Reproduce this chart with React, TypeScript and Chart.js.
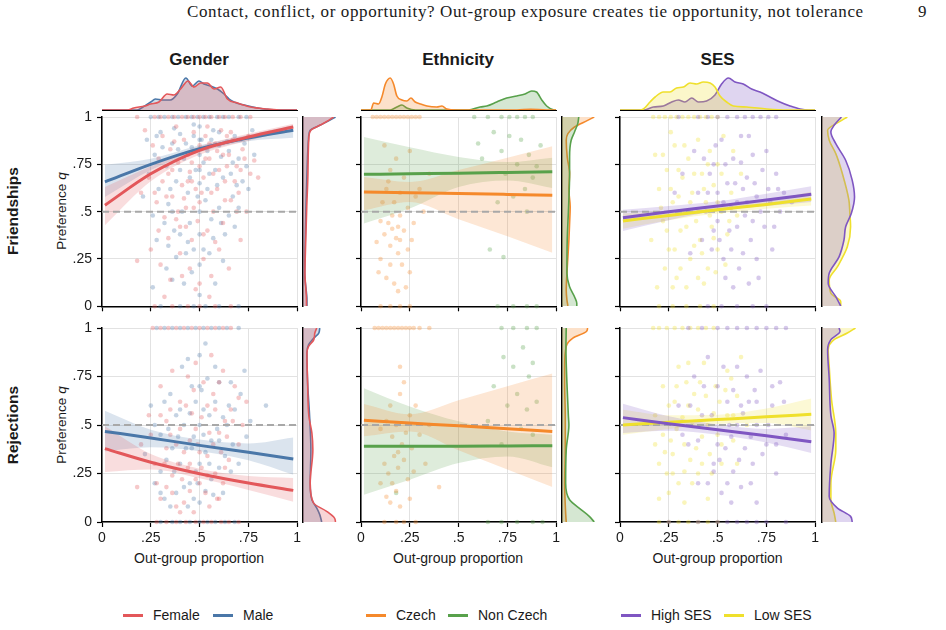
import React, { useEffect, useRef } from 'react';
import { Chart, registerables } from 'chart.js';

Chart.register(...registerables);
Chart.defaults.font.family = '"Liberation Sans", Arial, Helvetica, sans-serif';
Chart.defaults.color = '#1a1a1a';

// ---------------- colours ----------------
const RED = '#e3575a';
const BLUE = '#4a77a8';
const ORANGE = '#f5892b';
const GREEN = '#58a14b';
const PURPLE = '#7f56c2';
const YELLOW = '#efe02c';

// ---------------- texts ----------------
const HEADER = 'Contact, conflict, or opportunity? Out-group exposure creates tie opportunity, not tolerance';
const PAGE_NO = '9';
const COLUMN_TITLES = ['Gender', 'Ethnicity', 'SES'];
const ROW_TITLES = ['Friendships', 'Rejections'];
const X_TITLE = 'Out-group proportion';
const Y_TITLE = 'Preference';
const Y_TITLE_VAR = 'q';
const LEGEND_LABELS = ['Female', 'Male', 'Czech', 'Non Czech', 'High SES', 'Low SES'];
const LEGEND_COLORS = [RED, BLUE, ORANGE, GREEN, PURPLE, YELLOW];

// ---------------- axes ----------------
const TICK_VALUES = [0, 0.25, 0.5, 0.75, 1];
const TICK_LABELS = ['0', '.25', '.5', '.75', '1'];
const CHANCE_LEVEL = 0.5;
const FIT_X = [0.015, 0.25, 0.5, 0.75, 0.98];

// ================= GENDER — Friendships =================
const gFrFemaleFit = [0.534, 0.70, 0.824, 0.894, 0.947];
const gFrFemaleLo = [0.428, 0.66, 0.80, 0.875, 0.93];
const gFrFemaleHi = [0.63, 0.74, 0.846, 0.912, 0.965];
const gFrMaleFit = [0.657, 0.75, 0.833, 0.889, 0.93];
const gFrMaleLo = [0.577, 0.72, 0.815, 0.872, 0.89];
const gFrMaleHi = [0.748, 0.78, 0.851, 0.905, 0.956];
const gFrFemaleRow1 = [0.18, 0.27, 0.3, 0.34, 0.37, 0.41, 0.44, 0.47, 0.5, 0.53, 0.56, 0.6, 0.63, 0.67, 0.71, 0.76];
const gFrFemaleRow0 = [0.27, 0.36, 0.44, 0.5, 0.58, 0.66];
const gFrFemalePts = [
  [0.22, 0.93], [0.26, 0.85], [0.29, 0.78], [0.31, 0.9], [0.34, 0.7], [0.35, 0.83], [0.38, 0.95], [0.39, 0.76],
  [0.41, 0.64], [0.42, 0.88], [0.44, 0.8], [0.45, 0.71], [0.47, 0.92], [0.48, 0.62], [0.5, 0.85], [0.5, 0.74],
  [0.5, 0.55], [0.52, 0.68], [0.53, 0.9], [0.55, 0.78], [0.56, 0.6], [0.58, 0.86], [0.6, 0.72], [0.61, 0.93],
  [0.63, 0.66], [0.65, 0.8], [0.67, 0.88], [0.69, 0.74], [0.72, 0.83], [0.75, 0.9], [0.78, 0.77], [0.2, 0.6],
  [0.24, 0.68], [0.28, 0.55], [0.32, 0.47], [0.36, 0.58], [0.4, 0.42], [0.43, 0.52], [0.46, 0.35], [0.49, 0.45],
  [0.54, 0.4], [0.57, 0.5], [0.62, 0.44], [0.66, 0.56], [0.7, 0.6], [0.74, 0.5], [0.25, 0.3], [0.3, 0.22],
  [0.35, 0.14], [0.4, 0.28], [0.45, 0.2], [0.48, 0.09], [0.52, 0.25], [0.56, 0.16], [0.6, 0.3], [0.65, 0.2],
  [0.18, 0.24], [0.71, 0.35], [0.8, 0.68], [0.37, 0.87], [0.46, 0.66], [0.54, 0.95], [0.59, 0.82], [0.64, 0.9],
  [0.27, 0.6], [0.31, 0.66], [0.33, 0.58], [0.36, 0.72], [0.39, 0.5], [0.42, 0.57], [0.44, 0.66], [0.46, 0.76],
  [0.48, 0.82], [0.51, 0.6], [0.53, 0.78], [0.55, 0.86], [0.57, 0.7], [0.59, 0.62], [0.62, 0.8], [0.64, 0.74],
  [0.66, 0.92], [0.68, 0.66], [0.71, 0.72], [0.73, 0.78], [0.76, 0.7], [0.29, 0.4], [0.34, 0.36], [0.38, 0.46],
  [0.43, 0.42], [0.47, 0.52], [0.52, 0.38], [0.58, 0.34], [0.63, 0.56], [0.69, 0.5], [0.41, 0.16], [0.5, 0.12],
  [0.55, 0.05], [0.32, 0.05],
];
const gFrMaleRow1 = [0.25, 0.29, 0.32, 0.36, 0.39, 0.43, 0.46, 0.49, 0.52, 0.55, 0.59, 0.62, 0.65, 0.7, 0.74];
const gFrMaleRow0 = [0.3, 0.4, 0.47, 0.53, 0.6, 0.7];
const gFrMalePts = [
  [0.23, 0.88], [0.27, 0.8], [0.3, 0.92], [0.33, 0.74], [0.36, 0.86], [0.38, 0.66], [0.4, 0.91], [0.42, 0.78],
  [0.44, 0.6], [0.46, 0.84], [0.48, 0.72], [0.5, 0.95], [0.5, 0.8], [0.5, 0.65], [0.5, 0.5], [0.5, 0.38],
  [0.5, 0.22], [0.51, 0.88], [0.54, 0.82], [0.55, 0.7], [0.57, 0.93], [0.59, 0.64], [0.61, 0.79], [0.64, 0.87],
  [0.66, 0.7], [0.68, 0.9], [0.7, 0.78], [0.73, 0.86], [0.77, 0.93], [0.21, 0.58], [0.26, 0.48], [0.29, 0.62],
  [0.34, 0.54], [0.37, 0.4], [0.41, 0.5], [0.45, 0.44], [0.47, 0.3], [0.53, 0.56], [0.56, 0.46], [0.6, 0.52],
  [0.63, 0.38], [0.67, 0.58], [0.72, 0.66], [0.28, 0.35], [0.33, 0.2], [0.38, 0.26], [0.42, 0.12], [0.44, 0.34],
  [0.55, 0.28], [0.58, 0.12], [0.62, 0.24], [0.68, 0.42], [0.75, 0.62], [0.26, 0.1], [0.34, 0.32], [0.5, 0.88],
  [0.5, 0.72], [0.39, 0.83], [0.47, 0.9], [0.6, 0.85],
  [0.24, 0.7], [0.28, 0.9], [0.31, 0.84], [0.35, 0.62], [0.37, 0.94], [0.4, 0.72], [0.43, 0.86], [0.45, 0.68],
  [0.47, 0.96], [0.49, 0.58], [0.52, 0.76], [0.54, 0.62], [0.56, 0.88], [0.58, 0.72], [0.6, 0.92], [0.62, 0.68],
  [0.65, 0.82], [0.67, 0.76], [0.69, 0.64], [0.71, 0.88], [0.74, 0.74], [0.78, 0.8], [0.32, 0.44], [0.36, 0.5],
  [0.4, 0.38], [0.43, 0.28], [0.46, 0.18], [0.52, 0.3], [0.57, 0.36], [0.61, 0.44], [0.65, 0.48], [0.7, 0.52],
  [0.5, 0.06], [0.36, 0.14],
];

// ================= GENDER — Rejections =================
const gReFemaleFit = [0.378, 0.308, 0.249, 0.201, 0.163];
const gReFemaleLo = [0.258, 0.27, 0.225, 0.165, 0.105];
const gReFemaleHi = [0.493, 0.35, 0.275, 0.237, 0.227];
const gReMaleFit = [0.467, 0.433, 0.395, 0.359, 0.325];
const gReMaleLo = [0.364, 0.385, 0.365, 0.318, 0.244];
const gReMaleHi = [0.574, 0.476, 0.425, 0.405, 0.436];
const gReFemaleRow1 = [0.26, 0.3, 0.34, 0.38, 0.42, 0.46, 0.5, 0.54, 0.58, 0.62, 0.66];
const gReFemaleRow0 = [0.28, 0.33, 0.38, 0.43, 0.48, 0.52, 0.56, 0.61, 0.65, 0.7];
const gReFemalePts = [
  [0.3, 0.12], [0.33, 0.18], [0.36, 0.24], [0.39, 0.3], [0.42, 0.36], [0.45, 0.42], [0.48, 0.48], [0.51, 0.54],
  [0.54, 0.6], [0.57, 0.66], [0.6, 0.72], [0.42, 0.1], [0.45, 0.16], [0.48, 0.22], [0.51, 0.28], [0.54, 0.34],
  [0.57, 0.4], [0.6, 0.46], [0.63, 0.52], [0.66, 0.58], [0.2, 0.4], [0.24, 0.55], [0.27, 0.3], [0.3, 0.7],
  [0.35, 0.45], [0.38, 0.08], [0.4, 0.62], [0.44, 0.75], [0.47, 0.05], [0.5, 0.2], [0.53, 0.15], [0.55, 0.08],
  [0.58, 0.25], [0.62, 0.2], [0.65, 0.32], [0.68, 0.7], [0.72, 0.5], [0.74, 0.62], [0.33, 0.52], [0.36, 0.78],
  [0.47, 0.68], [0.6, 0.12], [0.7, 0.4], [0.18, 0.18], [0.41, 0.22], [0.44, 0.28], [0.5, 0.36], [0.56, 0.86],
  [0.32, 0.3], [0.35, 0.58], [0.38, 0.4], [0.4, 0.48], [0.43, 0.6], [0.46, 0.56], [0.49, 0.4], [0.52, 0.72],
  [0.55, 0.46], [0.58, 0.58], [0.61, 0.36], [0.64, 0.44], [0.67, 0.52], [0.7, 0.64], [0.36, 0.15], [0.4, 0.05],
  [0.45, 0.3], [0.54, 0.24], [0.59, 0.12], [0.63, 0.28], [0.28, 0.2], [0.33, 0.38], [0.25, 0.45], [0.48, 0.82],
  [0.62, 0.78], [0.3, 0.55],
];
const gReMaleRow1 = [0.28, 0.32, 0.36, 0.4, 0.44, 0.48, 0.52, 0.56, 0.6, 0.64, 0.7];
const gReMaleRow0 = [0.3, 0.36, 0.4, 0.45, 0.5, 0.54, 0.58, 0.63, 0.68];
const gReMalePts = [
  [0.27, 0.2], [0.3, 0.26], [0.33, 0.32], [0.36, 0.38], [0.39, 0.44], [0.42, 0.5], [0.45, 0.56], [0.48, 0.62],
  [0.51, 0.68], [0.54, 0.74], [0.45, 0.2], [0.48, 0.26], [0.5, 0.3], [0.53, 0.36], [0.56, 0.42], [0.59, 0.48],
  [0.62, 0.54], [0.65, 0.6], [0.5, 0.1], [0.53, 0.16], [0.56, 0.22], [0.6, 0.28], [0.63, 0.34], [0.67, 0.4],
  [0.22, 0.35], [0.25, 0.6], [0.32, 0.12], [0.35, 0.66], [0.38, 0.15], [0.41, 0.8], [0.44, 0.08], [0.47, 0.44],
  [0.5, 0.86], [0.5, 0.5], [0.5, 0.7], [0.55, 0.55], [0.58, 0.8], [0.62, 0.15], [0.66, 0.72], [0.7, 0.3],
  [0.73, 0.78], [0.76, 0.52], [0.3, 0.45], [0.84, 0.6], [0.4, 0.3], [0.46, 0.38], [0.52, 0.45],
  [0.3, 0.15], [0.34, 0.48], [0.37, 0.26], [0.4, 0.58], [0.43, 0.38], [0.46, 0.7], [0.49, 0.2], [0.52, 0.58],
  [0.55, 0.3], [0.58, 0.62], [0.6, 0.42], [0.64, 0.5], [0.68, 0.58], [0.71, 0.66], [0.74, 0.44], [0.35, 0.08],
  [0.42, 0.18], [0.47, 0.12], [0.57, 0.14], [0.66, 0.26], [0.27, 0.5], [0.32, 0.62], [0.44, 0.84], [0.6, 0.72],
  [0.38, 0.55], [0.53, 0.92],
];

// ================= ETHNICITY — Friendships =================
const eFrCzechFit = [0.604, 0.60, 0.596, 0.591, 0.586];
const eFrCzechLo = [0.507, 0.551, 0.46, 0.37, 0.283];
const eFrCzechHi = [0.683, 0.657, 0.72, 0.785, 0.845];
const eFrNonFit = [0.697, 0.70, 0.703, 0.707, 0.711];
const eFrNonLo = [0.437, 0.516, 0.63, 0.665, 0.625];
const eFrNonHi = [0.894, 0.84, 0.789, 0.762, 0.785];
const eFrCzechRow1 = [0.06, 0.08, 0.1, 0.12, 0.14, 0.16, 0.18, 0.2, 0.22, 0.24, 0.26, 0.28, 0.3];
const eFrCzechRow0 = [0.1, 0.15, 0.2, 0.25];
const eFrCzechPts = [
  [0.12, 0.85], [0.15, 0.72], [0.18, 0.78], [0.22, 0.68], [0.25, 0.82], [0.13, 0.62], [0.17, 0.55], [0.2, 0.6],
  [0.24, 0.52], [0.28, 0.58], [0.1, 0.45], [0.12, 0.38], [0.14, 0.44], [0.15, 0.32], [0.16, 0.41], [0.18, 0.36],
  [0.19, 0.28], [0.2, 0.48], [0.21, 0.22], [0.22, 0.4], [0.24, 0.3], [0.25, 0.18], [0.26, 0.35], [0.1, 0.25],
  [0.13, 0.15], [0.15, 0.22], [0.17, 0.12], [0.19, 0.08], [0.23, 0.1], [0.08, 0.34], [0.11, 0.55], [0.14, 0.66],
  [0.27, 0.44], [0.3, 0.62], [0.32, 0.5], [0.35, 0.7], [0.16, 0.48], [0.19, 0.42], [0.09, 0.18], [0.2, 0.35],
];
const eFrNonRow1 = [0.58, 0.65, 0.72, 0.76, 0.8, 0.84, 0.88];
const eFrNonRow0 = [0.7, 0.78, 0.85, 0.9];
const eFrNonPts = [
  [0.6, 0.86], [0.62, 0.78], [0.68, 0.92], [0.72, 0.82], [0.74, 0.7], [0.76, 0.9], [0.8, 0.75], [0.82, 0.88],
  [0.84, 0.62], [0.86, 0.8], [0.88, 0.68], [0.9, 0.74], [0.7, 0.55], [0.78, 0.58], [0.66, 0.3], [0.73, 0.26],
  [0.85, 0.5], [0.92, 0.85],
];

// ================= ETHNICITY — Rejections =================
const eReCzechFit = [0.524, 0.51, 0.496, 0.481, 0.466];
const eReCzechLo = [0.442, 0.467, 0.37, 0.27, 0.18];
const eReCzechHi = [0.608, 0.555, 0.627, 0.70, 0.765];
const eReNonFit = [0.39, 0.391, 0.391, 0.392, 0.393];
const eReNonLo = [0.141, 0.218, 0.304, 0.338, 0.282];
const eReNonHi = [0.69, 0.596, 0.519, 0.467, 0.45];
const eReCzechRow1 = [0.07, 0.09, 0.11, 0.13, 0.15, 0.17, 0.19, 0.21, 0.23, 0.25, 0.27, 0.3, 0.35];
const eReCzechRow0 = [0.12, 0.18, 0.22, 0.28];
const eReCzechPts = [
  [0.2, 0.8], [0.22, 0.72], [0.15, 0.6], [0.2, 0.66], [0.25, 0.55], [0.1, 0.48], [0.13, 0.52], [0.16, 0.44],
  [0.18, 0.5], [0.21, 0.4], [0.23, 0.46], [0.26, 0.38], [0.12, 0.3], [0.14, 0.25], [0.17, 0.34], [0.19, 0.28],
  [0.22, 0.32], [0.24, 0.22], [0.27, 0.26], [0.13, 0.13], [0.15, 0.1], [0.18, 0.16], [0.2, 0.08], [0.25, 0.12],
  [0.1, 0.2], [0.3, 0.45], [0.33, 0.3], [0.28, 0.6], [0.35, 0.5], [0.4, 0.18], [0.16, 0.2], [0.19, 0.36],
];
const eReNonRow1 = [0.72, 0.78, 0.85, 0.9];
const eReNonRow0 = [0.65, 0.72, 0.8, 0.88, 0.93];
const eReNonPts = [
  [0.73, 0.85], [0.78, 0.8], [0.83, 0.9], [0.86, 0.75], [0.88, 0.82], [0.75, 0.6], [0.8, 0.66], [0.85, 0.58],
  [0.9, 0.62], [0.65, 0.52], [0.72, 0.4], [0.82, 0.48], [0.88, 0.45], [0.18, 0.15], [0.68, 0.7],
];

// ================= SES — Friendships =================
const sFrHighFit = [0.468, 0.50, 0.53, 0.561, 0.592];
const sFrHighLo = [0.398, 0.455, 0.505, 0.53, 0.551];
const sFrHighHi = [0.51, 0.53, 0.555, 0.595, 0.634];
const sFrLowFit = [0.451, 0.48, 0.51, 0.538, 0.567];
const sFrLowLo = [0.41, 0.455, 0.49, 0.515, 0.532];
const sFrLowHi = [0.49, 0.505, 0.53, 0.56, 0.605];
const sFrLowRow1 = [0.17, 0.2, 0.23, 0.26, 0.29, 0.32, 0.35, 0.38, 0.41, 0.44, 0.47, 0.5];
const sFrLowRow0 = [0.2, 0.27, 0.34, 0.41, 0.48];
const sFrLowPts = [
  [0.18, 0.8], [0.2, 0.62], [0.22, 0.45], [0.24, 0.72], [0.25, 0.3], [0.27, 0.55], [0.28, 0.85], [0.29, 0.15],
  [0.31, 0.4], [0.32, 0.68], [0.33, 0.5], [0.35, 0.78], [0.36, 0.25], [0.37, 0.6], [0.39, 0.45], [0.4, 0.88],
  [0.41, 0.35], [0.42, 0.7], [0.44, 0.55], [0.45, 0.2], [0.46, 0.82], [0.47, 0.42], [0.48, 0.64], [0.5, 0.3],
  [0.5, 0.75], [0.52, 0.5], [0.53, 0.9], [0.55, 0.38], [0.57, 0.6], [0.6, 0.48], [0.16, 0.35], [0.19, 0.1],
  [0.23, 0.2], [0.26, 0.92], [0.3, 0.58], [0.34, 0.1], [0.38, 0.32], [0.43, 0.12], [0.49, 0.18], [0.62, 0.7],
  [0.21, 0.52], [0.24, 0.4], [0.26, 0.62], [0.28, 0.3], [0.3, 0.72], [0.31, 0.2], [0.33, 0.85], [0.34, 0.42],
  [0.36, 0.55], [0.38, 0.7], [0.4, 0.5], [0.42, 0.28], [0.43, 0.62], [0.45, 0.75], [0.46, 0.48], [0.48, 0.36],
  [0.5, 0.55], [0.52, 0.7], [0.54, 0.22], [0.56, 0.45], [0.22, 0.8], [0.27, 0.1], [0.4, 0.15], [0.58, 0.82],
];
const sFrHighRow1 = [0.3, 0.4, 0.45, 0.5, 0.55, 0.6, 0.64, 0.68, 0.72, 0.76, 0.8];
const sFrHighRow0 = [0.45, 0.52, 0.6, 0.68, 0.75];
const sFrHighPts = [
  [0.32, 0.7], [0.35, 0.5], [0.38, 0.82], [0.42, 0.35], [0.45, 0.6], [0.48, 0.75], [0.5, 0.45], [0.52, 0.88],
  [0.53, 0.25], [0.55, 0.65], [0.56, 0.4], [0.58, 0.78], [0.6, 0.55], [0.61, 0.2], [0.62, 0.9], [0.64, 0.48],
  [0.65, 0.68], [0.67, 0.35], [0.68, 0.8], [0.7, 0.58], [0.71, 0.15], [0.73, 0.72], [0.74, 0.42], [0.76, 0.62],
  [0.78, 0.3], [0.8, 0.7], [0.82, 0.5], [0.84, 0.6], [0.58, 0.1], [0.66, 0.12], [0.5, 0.6], [0.47, 0.3],
  [0.43, 0.78], [0.36, 0.28], [0.28, 0.6], [0.88, 0.55], [0.57, 0.52], [0.63, 0.62],
  [0.4, 0.6], [0.44, 0.5], [0.46, 0.7], [0.49, 0.85], [0.51, 0.35], [0.53, 0.55], [0.54, 0.75], [0.57, 0.3],
  [0.59, 0.65], [0.6, 0.42], [0.62, 0.76], [0.63, 0.28], [0.65, 0.55], [0.66, 0.9], [0.68, 0.45], [0.69, 0.65],
  [0.72, 0.5], [0.75, 0.82], [0.77, 0.55], [0.79, 0.42], [0.81, 0.62], [0.54, 0.15], [0.7, 0.25], [0.48, 0.4],
];

// ================= SES — Rejections =================
const sReHighFit = [0.538, 0.507, 0.476, 0.445, 0.414];
const sReHighLo = [0.459, 0.47, 0.45, 0.41, 0.356];
const sReHighHi = [0.61, 0.545, 0.503, 0.48, 0.493];
const sReLowFit = [0.50, 0.514, 0.528, 0.542, 0.555];
const sReLowLo = [0.45, 0.48, 0.505, 0.51, 0.472];
const sReLowHi = [0.579, 0.55, 0.553, 0.585, 0.637];
const sReLowRow1 = [0.17, 0.2, 0.24, 0.28, 0.32, 0.36, 0.4, 0.44, 0.48];
const sReLowRow0 = [0.2, 0.25, 0.3, 0.35, 0.4, 0.45, 0.5];
const sReLowPts = [
  [0.3, 0.2], [0.33, 0.26], [0.36, 0.32], [0.39, 0.38], [0.42, 0.44], [0.45, 0.5], [0.48, 0.56], [0.51, 0.62],
  [0.54, 0.68], [0.57, 0.74], [0.2, 0.3], [0.23, 0.36], [0.26, 0.42], [0.29, 0.48], [0.32, 0.54], [0.35, 0.6],
  [0.38, 0.66], [0.41, 0.72], [0.18, 0.55], [0.22, 0.7], [0.25, 0.15], [0.28, 0.62], [0.3, 0.8], [0.33, 0.1],
  [0.37, 0.5], [0.4, 0.25], [0.43, 0.82], [0.46, 0.35], [0.5, 0.45], [0.52, 0.3], [0.55, 0.55], [0.58, 0.42],
  [0.6, 0.65], [0.62, 0.85], [0.65, 0.5], [0.2, 0.12], [0.27, 0.25], [0.34, 0.72],
  [0.22, 0.45], [0.25, 0.6], [0.27, 0.35], [0.3, 0.5], [0.33, 0.4], [0.35, 0.82], [0.37, 0.2], [0.4, 0.58],
  [0.42, 0.3], [0.44, 0.65], [0.47, 0.25], [0.49, 0.7], [0.52, 0.4], [0.55, 0.78], [0.58, 0.55], [0.6, 0.3],
  [0.24, 0.25], [0.29, 0.7], [0.18, 0.4], [0.45, 0.12],
];
const sReHighRow1 = [0.35, 0.42, 0.5, 0.55, 0.6, 0.65, 0.7, 0.75, 0.8, 0.85];
const sReHighRow0 = [0.25, 0.4, 0.5, 0.55, 0.6, 0.65, 0.7, 0.75, 0.85];
const sReHighPts = [
  [0.45, 0.2], [0.48, 0.26], [0.51, 0.32], [0.54, 0.38], [0.57, 0.44], [0.6, 0.5], [0.63, 0.56], [0.66, 0.62],
  [0.69, 0.68], [0.55, 0.2], [0.58, 0.26], [0.61, 0.32], [0.64, 0.38], [0.67, 0.44], [0.7, 0.5], [0.3, 0.6],
  [0.35, 0.4], [0.38, 0.75], [0.42, 0.55], [0.45, 0.85], [0.5, 0.7], [0.52, 0.15], [0.55, 0.62], [0.6, 0.8],
  [0.62, 0.18], [0.68, 0.3], [0.72, 0.78], [0.75, 0.4], [0.78, 0.6], [0.8, 0.25], [0.82, 0.72], [0.4, 0.2],
  [0.7, 0.1], [0.85, 0.45],
  [0.32, 0.45], [0.36, 0.6], [0.4, 0.42], [0.43, 0.7], [0.47, 0.55], [0.5, 0.4], [0.53, 0.8], [0.56, 0.5],
  [0.58, 0.68], [0.62, 0.6], [0.65, 0.75], [0.67, 0.2], [0.7, 0.62], [0.73, 0.35], [0.76, 0.5], [0.78, 0.7],
  [0.8, 0.4], [0.48, 0.3], [0.57, 0.1], [0.84, 0.62],
];

// ================= marginal densities: top (x, density) =================
const gTopMale = [[0, 0], [0.18, 0], [0.21, 3], [0.25, 8], [0.274, 11], [0.31, 10], [0.35, 10], [0.386, 16], [0.43, 32], [0.463, 24], [0.497, 29], [0.523, 26], [0.557, 24], [0.592, 21], [0.626, 16], [0.652, 11], [0.677, 8], [0.729, 5], [0.798, 2], [0.88, 0.3], [1, 0]];
const gTopFemale = [[0, 0], [0.13, 0], [0.163, 2], [0.22, 4], [0.249, 6], [0.292, 8], [0.334, 16], [0.369, 15], [0.403, 21], [0.441, 29], [0.472, 23], [0.506, 27], [0.54, 27], [0.575, 21], [0.609, 23], [0.643, 11], [0.695, 7], [0.763, 3], [0.849, 1], [0.92, 0], [1, 0]];
const eTopCzech = [[0, 0], [0.05, 0], [0.065, 7], [0.09, 6], [0.107, 13], [0.125, 26], [0.15, 32], [0.167, 26], [0.184, 14], [0.21, 10], [0.235, 9], [0.256, 12], [0.278, 8], [0.304, 6], [0.338, 4], [0.389, 3], [0.415, 4], [0.44, 1], [0.49, 0], [0.8, 0], [0.87, 0.7], [0.95, 0], [1, 0]];
const eTopNon = [[0, 0], [0.15, 0], [0.184, 3], [0.21, 5], [0.235, 2], [0.28, 0], [0.55, 0], [0.611, 3], [0.645, 4], [0.696, 8], [0.747, 12], [0.799, 14], [0.841, 16], [0.875, 19], [0.9, 18], [0.927, 10], [0.952, 4], [0.986, 0.3], [1, 0]];
const sTopLow = [[0, 0], [0.1, 0], [0.12, 1], [0.154, 8], [0.18, 13], [0.222, 18], [0.256, 18], [0.29, 22], [0.325, 23], [0.359, 27], [0.393, 26], [0.427, 28], [0.462, 27], [0.487, 23], [0.513, 14], [0.547, 8], [0.581, 4], [0.65, 3], [0.752, 1], [0.855, 0], [1, 0]];
const sTopHigh = [[0, 0], [0.12, 0], [0.171, 3], [0.222, 4], [0.265, 8], [0.299, 10], [0.333, 8], [0.368, 12], [0.402, 8], [0.444, 9], [0.487, 15], [0.521, 26], [0.556, 32], [0.59, 28], [0.632, 26], [0.675, 21], [0.718, 18], [0.769, 13], [0.82, 8], [0.872, 4], [0.923, 1], [0.97, 0], [1, 0]];

// ================= marginal densities: right (q, density) =================
const gFrRightMale = [[0, 4], [0.03, 4], [0.173, 1.7], [0.349, 2.3], [0.525, 3], [0.7, 4], [0.894, 5.7], [0.93, 7.3], [0.956, 17], [0.982, 27], [1, 33]];
const gFrRightFemale = [[0, 3.5], [0.03, 3.5], [0.173, 2], [0.349, 2.8], [0.525, 3.8], [0.7, 5], [0.894, 6], [0.93, 8], [0.956, 17], [0.982, 26], [1, 31]];
const gReRightMale = [[0, 19], [0.038, 17], [0.072, 14], [0.115, 9], [0.2, 7.3], [0.373, 8], [0.545, 6.7], [0.716, 4.7], [0.871, 4], [0.914, 5.7], [0.948, 11], [0.974, 16], [1, 17]];
const gReRightFemale = [[0, 33], [0.02, 32], [0.055, 24], [0.098, 10.7], [0.2, 7.3], [0.373, 10], [0.459, 9], [0.545, 6], [0.716, 4.7], [0.871, 4], [0.905, 5.7], [0.94, 11], [0.974, 12], [1, 14]];
const eFrRightCzech = [[0, 6], [0.032, 5], [0.085, 4.3], [0.173, 5], [0.26, 6], [0.349, 7], [0.437, 7.7], [0.525, 8.3], [0.613, 7], [0.7, 7.7], [0.789, 5.3], [0.877, 4.3], [0.912, 6], [0.947, 12.7], [0.982, 26], [1, 32.7]];
const eFrRightNon = [[0, 15], [0.014, 15], [0.049, 12.7], [0.102, 7.7], [0.173, 5], [0.349, 5.3], [0.525, 6.7], [0.7, 7.7], [0.789, 7.7], [0.877, 9.3], [0.921, 12.7], [0.965, 16], [1, 17]];
const eReRightCzech = [[0, 4.3], [0.046, 3.7], [0.2, 2.7], [0.373, 3.3], [0.545, 3.3], [0.716, 2.7], [0.802, 2.7], [0.905, 4.3], [0.948, 11], [0.983, 25], [1, 26]];
const eReRightNon = [[0, 32.7], [0.029, 27.7], [0.064, 19.3], [0.115, 7.7], [0.2, 3.7], [0.373, 4.3], [0.5, 7], [0.545, 6.5], [0.716, 5], [0.9, 4], [1, 4.3]];
const sFrRightLow = [[0, 19], [0.023, 19], [0.067, 9], [0.137, 7.3], [0.208, 15.7], [0.313, 25.7], [0.419, 29], [0.489, 28.3], [0.56, 27.3], [0.7, 20.7], [0.806, 14], [0.877, 7.3], [0.93, 5.7], [0.974, 17.3], [1, 25.7]];
const sFrRightHigh = [[0, 19], [0.049, 14], [0.12, 6.3], [0.173, 7.3], [0.26, 17.3], [0.349, 22.3], [0.419, 24], [0.489, 29.7], [0.577, 33], [0.665, 30.7], [0.771, 24], [0.859, 14], [0.921, 9], [0.956, 12.3], [1, 19.7]];
const sReRightLow = [[0, 14], [0.046, 12.3], [0.115, 9], [0.2, 9], [0.373, 14], [0.457, 14], [0.63, 9.7], [0.802, 7.3], [0.888, 6.3], [0.94, 12.3], [0.974, 25.7], [1, 34]];
const sReRightHigh = [[0, 30.7], [0.029, 29], [0.072, 15.7], [0.132, 7.3], [0.3, 9], [0.457, 12.3], [0.55, 9], [0.74, 7.3], [0.888, 5.7], [0.94, 9], [0.983, 18.3], [1, 17.3]];

// ---------------- layout (pixels) ----------------
const COL_LEFT = [101.7, 360.7, 620.2];
const PLOT_W = 194.8;
const ROW_TOP = [116.7, 328.3];
const ROW_H = [189.3, 194];
const TOP_BASE = 109.5;
const TOP_H = 33;
const RIGHT_GAP = 6.5;
const RIGHT_W = 34;
const LEGEND_LINE_X = [123, 213, 366, 448, 621, 724];
const LEGEND_Y = 615;

interface Group {
  color: string; pts: number[][]; row1: number[]; row0: number[];
  fit: number[]; lo: number[]; hi: number[];
}

function rgba(hex: string, a: number) {
  const n = parseInt(hex.slice(1), 16);
  return `rgba(${(n >> 16) & 255},${(n >> 8) & 255},${n & 255},${a})`;
}

const fixTicks = (scale: any) => { scale.ticks = TICK_VALUES.map((v) => ({ value: v })); };
const tickLabel = (v: any) => { const i = TICK_VALUES.indexOf(Number(v)); return i >= 0 ? TICK_LABELS[i] : ''; };
const noPad = (s: any) => { s.paddingTop = 0; s.paddingBottom = 0; s.paddingLeft = 0; s.paddingRight = 0; };

const PANELS: Group[][][] = [
  [
    [
      { color: RED, pts: gFrFemalePts, row1: gFrFemaleRow1, row0: gFrFemaleRow0, fit: gFrFemaleFit, lo: gFrFemaleLo, hi: gFrFemaleHi },
      { color: BLUE, pts: gFrMalePts, row1: gFrMaleRow1, row0: gFrMaleRow0, fit: gFrMaleFit, lo: gFrMaleLo, hi: gFrMaleHi },
    ],
    [
      { color: ORANGE, pts: eFrCzechPts, row1: eFrCzechRow1, row0: eFrCzechRow0, fit: eFrCzechFit, lo: eFrCzechLo, hi: eFrCzechHi },
      { color: GREEN, pts: eFrNonPts, row1: eFrNonRow1, row0: eFrNonRow0, fit: eFrNonFit, lo: eFrNonLo, hi: eFrNonHi },
    ],
    [
      { color: PURPLE, pts: sFrHighPts, row1: sFrHighRow1, row0: sFrHighRow0, fit: sFrHighFit, lo: sFrHighLo, hi: sFrHighHi },
      { color: YELLOW, pts: sFrLowPts, row1: sFrLowRow1, row0: sFrLowRow0, fit: sFrLowFit, lo: sFrLowLo, hi: sFrLowHi },
    ],
  ],
  [
    [
      { color: RED, pts: gReFemalePts, row1: gReFemaleRow1, row0: gReFemaleRow0, fit: gReFemaleFit, lo: gReFemaleLo, hi: gReFemaleHi },
      { color: BLUE, pts: gReMalePts, row1: gReMaleRow1, row0: gReMaleRow0, fit: gReMaleFit, lo: gReMaleLo, hi: gReMaleHi },
    ],
    [
      { color: ORANGE, pts: eReCzechPts, row1: eReCzechRow1, row0: eReCzechRow0, fit: eReCzechFit, lo: eReCzechLo, hi: eReCzechHi },
      { color: GREEN, pts: eReNonPts, row1: eReNonRow1, row0: eReNonRow0, fit: eReNonFit, lo: eReNonLo, hi: eReNonHi },
    ],
    [
      { color: PURPLE, pts: sReHighPts, row1: sReHighRow1, row0: sReHighRow0, fit: sReHighFit, lo: sReHighLo, hi: sReHighHi },
      { color: YELLOW, pts: sReLowPts, row1: sReLowRow1, row0: sReLowRow0, fit: sReLowFit, lo: sReLowLo, hi: sReLowHi },
    ],
  ],
];

const TOP_DENS = [
  [{ color: RED, d: gTopFemale }, { color: BLUE, d: gTopMale }],
  [{ color: ORANGE, d: eTopCzech }, { color: GREEN, d: eTopNon }],
  [{ color: YELLOW, d: sTopLow }, { color: PURPLE, d: sTopHigh }],
];
const RIGHT_DENS = [
  [
    [{ color: RED, d: gFrRightFemale }, { color: BLUE, d: gFrRightMale }],
    [{ color: GREEN, d: eFrRightNon }, { color: ORANGE, d: eFrRightCzech }],
    [{ color: PURPLE, d: sFrRightHigh }, { color: YELLOW, d: sFrRightLow }],
  ],
  [
    [{ color: RED, d: gReRightFemale }, { color: BLUE, d: gReRightMale }],
    [{ color: GREEN, d: eReRightNon }, { color: ORANGE, d: eReRightCzech }],
    [{ color: PURPLE, d: sReRightHigh }, { color: YELLOW, d: sReRightLow }],
  ],
];

const BASE_OPTS = {
  responsive: false,
  animation: false,
  events: [],
  plugins: { legend: { display: false }, tooltip: { enabled: false } },
};

function mainConfig(groups: Group[], showX: boolean, showY: boolean, xH: number, yW: number, pad: any) {
  const datasets: any[] = [];
  for (const g of groups) {
    datasets.push({
      data: [
        ...g.pts.map((p) => ({ x: p[0], y: p[1] })),
        ...g.row1.map((x) => ({ x, y: 1 })),
        ...g.row0.map((x) => ({ x, y: 0 })),
      ],
      showLine: false, pointRadius: 2.3, pointBackgroundColor: rgba(g.color, 0.32),
      pointBorderWidth: 0, pointBorderColor: 'transparent', order: 10, clip: false,
    });
  }
  for (const g of groups) {
    datasets.push({
      data: FIT_X.map((x, i) => ({ x, y: g.lo[i] })), borderColor: 'transparent', borderWidth: 0,
      pointRadius: 0, fill: false, order: 6, cubicInterpolationMode: 'monotone',
    });
    datasets.push({
      data: FIT_X.map((x, i) => ({ x, y: g.hi[i] })), borderColor: 'transparent', borderWidth: 0,
      pointRadius: 0, fill: '-1', backgroundColor: rgba(g.color, 0.2), order: 6, cubicInterpolationMode: 'monotone',
    });
  }
  datasets.push({
    data: [{ x: 0, y: CHANCE_LEVEL }, { x: 1, y: CHANCE_LEVEL }], borderColor: '#a8a8a8', borderWidth: 2,
    borderDash: [7, 4], pointRadius: 0, order: 4,
  });
  for (const g of groups) {
    datasets.push({
      data: FIT_X.map((x, i) => ({ x, y: g.fit[i] })), borderColor: g.color, borderWidth: 3,
      pointRadius: 0, order: 1, cubicInterpolationMode: 'monotone',
    });
  }
  const grid = { color: '#e2e2e2', lineWidth: 1, tickColor: '#000', tickLength: 5, tickWidth: 1.2 };
  const border = { display: true, color: '#000', width: 1.5 };
  return {
    type: 'line',
    data: { datasets },
    options: {
      ...BASE_OPTS,
      layout: { padding: pad },
      scales: {
        x: {
          type: 'linear', min: 0, max: 1, afterBuildTicks: fixTicks,
          afterFit: (s: any) => { s.height = xH; noPad(s); },
          ticks: { display: showX, callback: tickLabel, font: { size: 14 }, padding: 3, maxRotation: 0, autoSkip: false, color: '#1a1a1a' },
          grid, border,
        },
        y: {
          type: 'linear', min: 0, max: 1, afterBuildTicks: fixTicks,
          afterFit: (s: any) => { s.width = yW; noPad(s); },
          ticks: { display: showY, callback: tickLabel, font: { size: 14 }, padding: 5, autoSkip: false, color: '#1a1a1a' },
          grid, border,
        },
      },
    },
  };
}

function topConfig(items: { color: string; d: number[][] }[]) {
  return {
    type: 'line',
    data: {
      datasets: items.map((it) => ({
        data: it.d.map((p) => ({ x: p[0], y: p[1] })), borderColor: it.color, borderWidth: 1.6,
        backgroundColor: rgba(it.color, 0.25), fill: 'origin', pointRadius: 0, cubicInterpolationMode: 'monotone',
      })),
    },
    options: {
      ...BASE_OPTS,
      layout: { padding: { left: 2, right: 2, top: 4, bottom: 3 } },
      scales: {
        x: {
          type: 'linear', min: 0, max: 1, afterFit: (s: any) => { s.height = 0; noPad(s); },
          ticks: { display: false }, grid: { display: false, drawTicks: false },
          border: { display: true, color: '#000', width: 1 },
        },
        y: { type: 'linear', min: 0, max: TOP_H, display: false },
      },
    },
  };
}

function rightConfig(items: { color: string; d: number[][] }[]) {
  return {
    type: 'line',
    data: {
      datasets: items.map((it) => ({
        data: it.d.map((p) => ({ x: p[1], y: p[0] })), borderColor: it.color, borderWidth: 1.6,
        backgroundColor: rgba(it.color, 0.25), fill: 'origin', pointRadius: 0, cubicInterpolationMode: 'monotone',
      })),
    },
    options: {
      ...BASE_OPTS,
      indexAxis: 'y',
      layout: { padding: { left: 2, right: 4, top: 4, bottom: 4 } },
      scales: {
        x: { type: 'linear', min: 0, max: RIGHT_W + 0.5, display: false },
        y: {
          type: 'linear', min: 0, max: 1, position: 'left', afterFit: (s: any) => { s.width = 0; noPad(s); },
          ticks: { display: false }, grid: { display: false, drawTicks: false },
          border: { display: true, color: '#000', width: 1.5 },
        },
      },
    },
  };
}

function ChartBox({ left, top, width, height, config }: { left: number; top: number; width: number; height: number; config: any }) {
  const ref = useRef<HTMLCanvasElement>(null);
  useEffect(() => {
    const chart = new Chart(ref.current as HTMLCanvasElement, config);
    return () => chart.destroy();
  }, []);
  return (
    <canvas ref={ref} width={Math.round(width)} height={Math.round(height)}
      style={{ position: 'absolute', left, top, width: Math.round(width), height: Math.round(height) }} />
  );
}

const sans = '"Liberation Sans", Arial, Helvetica, sans-serif';
const serif = '"Liberation Serif", "Times New Roman", serif';

export default function App() {
  const charts: React.ReactNode[] = [];
  const Y_AXIS_W = 50;
  const PAD_T = 8;
  const PAD_R = 8;
  for (let r = 0; r < 2; r++) {
    for (let c = 0; c < 3; c++) {
      const xH = r === 1 ? 30 : 8;
      const w = Y_AXIS_W + PLOT_W + PAD_R;
      const h = PAD_T + ROW_H[r] + xH;
      charts.push(
        <ChartBox key={`m${r}${c}`} left={COL_LEFT[c] - Y_AXIS_W} top={ROW_TOP[r] - PAD_T} width={w} height={h}
          config={mainConfig(PANELS[r][c], r === 1, c === 0, xH, Y_AXIS_W, { top: PAD_T, right: w - Math.round(w) + PAD_R, left: 0, bottom: Math.round(h) - h })} />,
      );
      const spine = COL_LEFT[c] + PLOT_W + RIGHT_GAP;
      charts.push(
        <ChartBox key={`r${r}${c}`} left={spine - 2} top={ROW_TOP[r] - 4} width={2 + RIGHT_W + 4} height={ROW_H[r] + 8}
          config={rightConfig(RIGHT_DENS[r][c])} />,
      );
    }
  }
  for (let c = 0; c < 3; c++) {
    charts.push(
      <ChartBox key={`t${c}`} left={COL_LEFT[c] - 2} top={TOP_BASE - TOP_H - 4} width={PLOT_W + 4} height={TOP_H + 4 + 3}
        config={topConfig(TOP_DENS[c])} />,
    );
  }

  return (
    <div style={{ position: 'absolute', left: 0, top: 0, width: 946, height: 630, background: '#fff', overflow: 'hidden', fontFamily: sans, color: '#1a1a1a' }}>
      <div style={{ position: 'absolute', left: 187, top: 3, fontFamily: serif, fontSize: 17, letterSpacing: '0.62px', lineHeight: '18px', whiteSpace: 'nowrap' }}>{HEADER}</div>
      <div style={{ position: 'absolute', left: 918, top: 3, fontFamily: serif, fontSize: 17, lineHeight: '18px' }}>{PAGE_NO}</div>
      {COLUMN_TITLES.map((t, c) => (
        <div key={t} style={{ position: 'absolute', left: COL_LEFT[c] + PLOT_W / 2, top: 60, transform: 'translate(-50%,-50%)', fontWeight: 700, fontSize: 17, whiteSpace: 'nowrap' }}>{t}</div>
      ))}
      {ROW_TITLES.map((t, r) => (
        <div key={t} style={{ position: 'absolute', left: 13, top: ROW_TOP[r] + ROW_H[r] / 2, transform: 'translate(-50%,-50%) rotate(-90deg)', fontWeight: 700, fontSize: 15.5, whiteSpace: 'nowrap' }}>{t}</div>
      ))}
      {ROW_TITLES.map((t, r) => (
        <div key={`yl${t}`} style={{ position: 'absolute', left: 61, top: ROW_TOP[r] + ROW_H[r] / 2, transform: 'translate(-50%,-50%) rotate(-90deg)', fontSize: 13.5, whiteSpace: 'nowrap' }}>
          {Y_TITLE} <i>{Y_TITLE_VAR}</i>
        </div>
      ))}
      {COLUMN_TITLES.map((t, c) => (
        <div key={`xl${t}`} style={{ position: 'absolute', left: COL_LEFT[c] + PLOT_W / 2, top: 558, transform: 'translate(-50%,-50%)', fontSize: 14, whiteSpace: 'nowrap' }}>{X_TITLE}</div>
      ))}
      {LEGEND_LABELS.map((t, i) => (
        <React.Fragment key={`lg${t}`}>
          <div style={{ position: 'absolute', left: LEGEND_LINE_X[i], top: LEGEND_Y - 1.5, width: 20, height: 3, background: LEGEND_COLORS[i] }} />
          <div style={{ position: 'absolute', left: LEGEND_LINE_X[i] + 30, top: LEGEND_Y, transform: 'translateY(-50%)', fontSize: 14, whiteSpace: 'nowrap' }}>{t}</div>
        </React.Fragment>
      ))}
      {charts}
    </div>
  );
}
